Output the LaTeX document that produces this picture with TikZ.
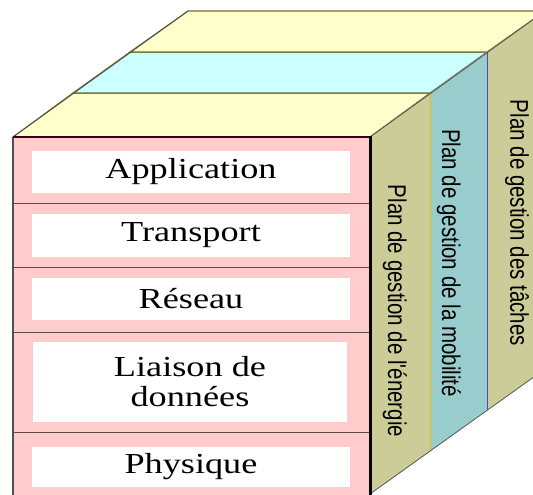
\documentclass[tikz,border=0pt]{standalone}
\usepackage{fontspec}
\setmainfont{Liberation Serif}
\newfontfamily\planfont{Liberation Sans}
\usepackage{tikz}
\definecolor{layerpink}{HTML}{FFCCCC}
\definecolor{topyellow}{HTML}{FFFFCC}
\definecolor{topblue}{HTML}{CCFFFF}
\definecolor{sidekhaki}{HTML}{CCCC99}
\definecolor{sideblue}{HTML}{99CCCC}
\definecolor{rimolive}{HTML}{6E6E30}
\definecolor{rimgray}{HTML}{505050}
\definecolor{sepbrown}{HTML}{604848}
\tikzset{
    layerbox/.style={fill=white, align=center, inner sep=0pt, xscale=1.25, transform shape,
      font=\fontsize{29}{30}\selectfont, minimum width=254pt},
    planlabel/.style={font=\planfont\fontsize{20.5}{22}\selectfont, xscale=1.25, rotate=-90, transform shape},
    rim/.style={draw=rimgray, line width=0.8pt}
}

\begin{document}
\begin{tikzpicture}[x=1pt, y=-1pt]
    \useasboundingbox (0,0) rectangle (533,495);
    \clip (0,0) rectangle (533,495);

    % top
    \filldraw [fill=topyellow, draw=rimolive, line width=1.1pt] (13,137) -- (370,137) -- (430,93) -- (73,93) -- cycle;
    \filldraw [fill=topblue, draw=rimolive, line width=1.1pt] (73,93) -- (430,93) -- (487,52) -- (130,52) -- cycle;
    \filldraw [fill=topyellow, draw=rimolive, line width=1.1pt] (130,52) -- (487,52) -- (545,11) -- (188,11) -- cycle;
    \draw [rim] (13,137) -- (188,11);

    % side planes
    \fill [sidekhaki] (370,137) -- (430,93) -- (430,451) -- (370,494) -- cycle;
    \fill [sideblue] (430,93) -- (487,52) -- (487,410) -- (430,451) -- cycle;
    \fill [sidekhaki] (487,52) -- (545,11) -- (545,369) -- (487,410) -- cycle;
    \draw [draw=yellow!60!olive, line width=1pt] (430,93) -- (430,451);
    \draw [draw=blue!40!gray, line width=1pt] (487,52) -- (487,410);
    \draw [rim] (370,137) -- (545,11);
    \draw [rim] (370,494) -- (545,369);

    % front
    \fill [layerpink] (13,137) rectangle (370,495);
    \foreach \y in {203, 267, 332, 432}
      \draw [sepbrown, line width=0.8pt] (13,\y) -- (370,\y);
    \node [layerbox, minimum height=42pt] (app) at (191,172) {Application};
    \node [layerbox, minimum height=43pt] (trans) at (191,235.5) {Transport};
    \node [layerbox, minimum height=42pt] (res) at (191,299) {Réseau};
    \node [layerbox, minimum height=80pt, minimum width=251pt] (liaison) at (190,382) {Liaison de\\données};
    \node [layerbox, minimum height=40pt] (phys) at (191,467) {Physique};
    \draw [rimgray, line width=1.6pt] (13,495) -- (13,137);
    \draw [black!70!purple, line width=1.2pt] (13,137) -- (370,137);
    \draw [black, line width=3pt] (370,136) -- (370,495);

    \node [planlabel] (energie) at (395,311) {Plan de gestion de l'énergie};
    \node [planlabel] (mobilite) at (449,263) {Plan de gestion de la mobilité};
    \node [planlabel] (taches) at (517,223) {Plan de gestion des tâches};
\end{tikzpicture}
\end{document}
